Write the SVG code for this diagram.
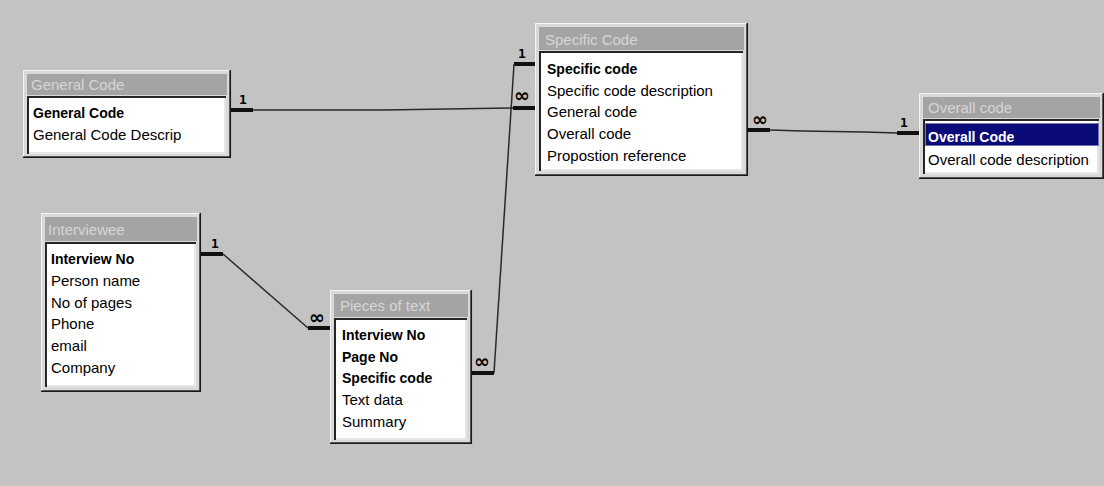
<svg xmlns="http://www.w3.org/2000/svg" width="1104" height="486" viewBox="0 0 1104 486">
  <style>
    .win { fill: #d9d9d9; }
    .hi { stroke: #f4f4f4; stroke-width: 1; fill: none; }
    .lo { stroke: #1a1a1a; stroke-width: 1.5; fill: none; }
    .lo2 { stroke: #8a8a8a; stroke-width: 1; fill: none; }
    .title { fill: #a4a4a4; }
    .ttext { font-family: "Liberation Sans", Arial, sans-serif; font-size: 15px; fill: #d6d6d6; }
    .list { fill: #ffffff; }
    .sunk { stroke: #262626; stroke-width: 2; fill: none; }
    .sunk2 { stroke: #e6e6e6; stroke-width: 2; fill: none; }
    .f { font-family: "Liberation Sans", Arial, sans-serif; font-size: 15px; fill: #000; }
    .k { font-family: "Liberation Sans", Arial, sans-serif; font-size: 14px; font-weight: bold; fill: #000; }
    .sel { fill: #0a0a78; }
    .selt { font-family: "Liberation Sans", Arial, sans-serif; font-size: 14px; font-weight: bold; fill: #ffffff; }
    .focus { fill: none; stroke: #e0e0e0; stroke-width: 1; stroke-dasharray: 1 1; }
    .bar { stroke: #111; stroke-width: 4; fill: none; }
    .rel { stroke: #2a2a2a; stroke-width: 1.5; fill: none; }
    .one { font-family: "DejaVu Sans Mono", "Liberation Mono", monospace; font-size: 13px; font-weight: bold; fill: #000; }
    .many { font-family: "DejaVu Sans", sans-serif; font-size: 19px; font-weight: bold; fill: #000; }
  </style>

  <rect x="0" y="0" width="1104" height="486" fill="#c3c3c3"/>

  <!-- relationship lines -->
  <g id="connectors">
    <!-- General Code 1 : many Specific Code -->
    <line class="bar" x1="231" y1="110" x2="253" y2="110"/>
    <polyline class="rel" points="253,110 384,110 513,108"/>
    <line class="bar" x1="513" y1="108" x2="535" y2="108"/>
    <text class="one" x="239" y="104">1</text>
    <text class="many" x="514" y="102">∞</text>

    <!-- Specific Code 1 : many Pieces of text -->
    <line class="bar" x1="514" y1="64" x2="535" y2="64"/>
    <line class="rel" x1="514" y1="64" x2="494" y2="373"/>
    <line class="bar" x1="472" y1="373" x2="494" y2="373"/>
    <text class="one" x="518" y="58">1</text>
    <text class="many" x="474" y="368">∞</text>

    <!-- Interviewee 1 : many Pieces of text -->
    <line class="bar" x1="201" y1="254" x2="223" y2="254"/>
    <line class="rel" x1="223" y1="254" x2="308" y2="328"/>
    <line class="bar" x1="308" y1="328" x2="330" y2="328"/>
    <text class="one" x="211" y="248">1</text>
    <text class="many" x="309" y="324">∞</text>

    <!-- Overall code 1 : many Specific Code -->
    <line class="bar" x1="748" y1="130" x2="770" y2="130"/>
    <polyline class="rel" points="770,130 802,131 865,132 897,133"/>
    <line class="bar" x1="897" y1="133" x2="919" y2="133"/>
    <text class="one" x="900" y="127">1</text>
    <text class="many" x="752" y="126">∞</text>
  </g>

  <!-- General Code table -->
  <g id="general-code">
    <rect class="win" x="23" y="70" width="208" height="88"/>
    <polyline class="hi" points="23.5,157 23.5,70.5 230,70.5"/>
    <polyline class="lo2" points="24,156.5 229.5,156.5 229.5,71"/>
    <polyline class="lo" points="23,157.3 230.3,157.3 230.3,70"/>
    <rect class="title" x="27" y="74" width="200" height="21"/>
    <text class="ttext" x="31" y="90">General Code</text>
    <rect class="list" x="27" y="96" width="199" height="58"/>
    <polyline class="sunk2" points="27,153 225,153 225,97"/>
    <polyline class="sunk" points="28,154 28,97 226,97"/>
    <text class="k" x="33" y="118">General Code</text>
    <text class="f" x="33" y="140">General Code Descrip</text>
  </g>

  <!-- Specific Code table -->
  <g id="specific-code">
    <rect class="win" x="535" y="23" width="213" height="153"/>
    <polyline class="hi" points="535.5,175 535.5,23.5 747,23.5"/>
    <polyline class="lo2" points="536,174.5 746.5,174.5 746.5,24"/>
    <polyline class="lo" points="535,175.3 747.3,175.3 747.3,23"/>
    <rect class="title" x="539" y="27" width="205" height="23"/>
    <text class="ttext" x="545" y="45">Specific Code</text>
    <rect class="list" x="539" y="51" width="204" height="120"/>
    <polyline class="sunk2" points="539,170 742,170 742,52"/>
    <polyline class="sunk" points="540,171 540,52 743,52"/>
    <text class="k" x="547" y="74">Specific code</text>
    <text class="f" x="547" y="96">Specific code description</text>
    <text class="f" x="547" y="117">General code</text>
    <text class="f" x="547" y="139">Overall code</text>
    <text class="f" x="547" y="161">Propostion reference</text>
  </g>

  <!-- Overall code table -->
  <g id="overall-code">
    <rect class="win" x="919" y="93" width="185" height="86"/>
    <polyline class="hi" points="919.5,178 919.5,93.5 1104,93.5"/>
    <polyline class="lo2" points="920,177.5 1102.5,177.5 1102.5,94"/>
    <polyline class="lo" points="919,178.3 1103.3,178.3 1103.3,93"/>
    <rect class="title" x="923" y="97" width="177" height="21"/>
    <text class="ttext" x="928" y="113">Overall code</text>
    <rect class="list" x="923" y="119" width="176" height="55"/>
    <polyline class="sunk2" points="923,173 1098,173 1098,120"/>
    <polyline class="sunk" points="924,174 924,120 1099,120"/>
    <rect class="sel" x="925" y="123" width="174" height="23"/>
    <rect class="focus" x="925.5" y="123.5" width="173" height="22"/>
    <text class="selt" x="928" y="142">Overall Code</text>
    <text class="f" x="928" y="165">Overall code description</text>
  </g>

  <!-- Interviewee table -->
  <g id="interviewee">
    <rect class="win" x="41" y="213" width="160" height="179"/>
    <polyline class="hi" points="41.5,391 41.5,213.5 200,213.5"/>
    <polyline class="lo2" points="42,390.5 199.5,390.5 199.5,214"/>
    <polyline class="lo" points="41,391.3 200.3,391.3 200.3,213"/>
    <rect class="title" x="45" y="217" width="152" height="24"/>
    <text class="ttext" x="48" y="235">Interviewee</text>
    <rect class="list" x="45" y="242" width="151" height="145"/>
    <polyline class="sunk2" points="45,386 195,386 195,243"/>
    <polyline class="sunk" points="46,387 46,243 196,243"/>
    <text class="k" x="51" y="264">Interview No</text>
    <text class="f" x="51" y="286">Person name</text>
    <text class="f" x="51" y="308">No of pages</text>
    <text class="f" x="51" y="329">Phone</text>
    <text class="f" x="51" y="351">email</text>
    <text class="f" x="51" y="373">Company</text>
  </g>

  <!-- Pieces of text table -->
  <g id="pieces-of-text">
    <rect class="win" x="330" y="290" width="142" height="154"/>
    <polyline class="hi" points="330.5,443 330.5,290.5 471,290.5"/>
    <polyline class="lo2" points="331,442.5 470.5,442.5 470.5,291"/>
    <polyline class="lo" points="330,443.3 471.3,443.3 471.3,290"/>
    <rect class="title" x="334" y="294" width="134" height="23"/>
    <text class="ttext" x="340" y="311">Pieces of text</text>
    <rect class="list" x="334" y="318" width="133" height="122"/>
    <polyline class="sunk2" points="334,439 466,439 466,319"/>
    <polyline class="sunk" points="335,440 335,319 467,319"/>
    <text class="k" x="342" y="340">Interview No</text>
    <text class="k" x="342" y="362">Page No</text>
    <text class="k" x="342" y="383">Specific code</text>
    <text class="f" x="342" y="405">Text data</text>
    <text class="f" x="342" y="427">Summary</text>
  </g>
</svg>
